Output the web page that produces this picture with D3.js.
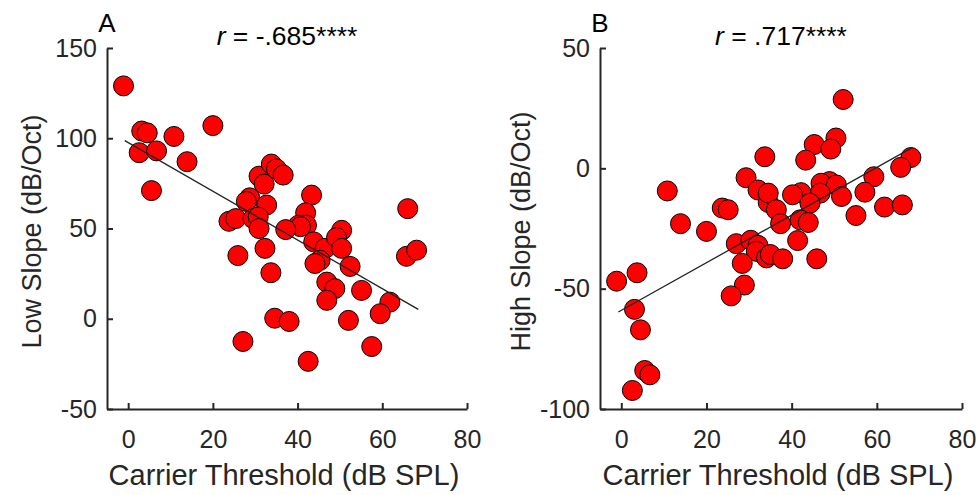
<!DOCTYPE html>
<html>
<head>
<meta charset="utf-8">
<script src="https://cdn.jsdelivr.net/npm/d3@7"></script>
<style>
    body { margin: 0; background: #fff; }
    svg { display: block; font-family: "Liberation Sans", Arial, sans-serif; }
</style>
</head>
<body>
<svg width="979" height="495"></svg>
<script>
// Panel A: carrier threshold vs low slope
const lowX = [-1.1, 3.2, 4.5, 10.8, 20.0, 2.6, 6.7, 13.9, 5.5,
    23.8, 25.4, 25.9, 27.1,
    30.9, 32.1, 33.8, 35.0, 36.6,
    28.7, 27.9, 32.7, 29.5, 30.7, 30.9, 32.3, 33.7, 34.6, 38.0,
    43.3, 41.9, 40.2, 42.1, 40.7, 37.2, 43.8, 46.5, 45.3, 44.1,
    50.4, 49.2, 50.4, 52.4, 46.9, 48.8, 46.9, 55.1, 61.8, 59.5, 52.0, 57.5, 42.5,
    66.0, 65.7, 68.1];
const lowY = [129, 104, 103, 101, 107, 92, 93, 87, 71,
    54, 55.5, 35, -12.6,
    79, 74.6, 85.7, 83, 79.6,
    67, 65, 63, 55.5, 56.4, 50, 39, 25.5, 0.3, -1.5,
    68.5, 58.7, 51.8, 51.8, 51, 49.4, 42.6, 39, 32.4, 30.6,
    49, 45, 39, 29, 20.3, 16.7, 10.2, 15.7, 9.2, 2.8, -0.9, -15.4, -23.6,
    61, 34.6, 38];
const lowFit = [[-0.8, 98.7], [68.5, 5.2]];

// Panel B: carrier threshold vs high slope
const highX = [-1.1, 3.7, 3.1, 4.5, 5.5, 6.7, 2.6,
    10.8, 13.9, 20.0, 23.7, 25.1, 29.3, 32.1, 33.7, 34.5,
    27.0, 30.4, 32.1, 31.7, 28.4, 28.9, 25.8, 34.1,
    52.1, 50.4, 45.3, 49.2, 43.3, 68.0, 65.6, 59.3, 57.2,
    48.9, 46.9, 50.5, 51.7, 46.7, 42.2, 40.2, 44.3,
    34.5, 36.4, 37.4, 42.0, 43.9, 55.1, 61.8, 66.0,
    41.4, 35.0, 37.9, 45.9];
const highY = [-46.9, -43.4, -58.6, -67.1, -84, -85.8, -92.3,
    -9.4, -23, -26.2, -16.5, -17.2, -3.9, -9, 4.8, -14.2,
    -31.3, -29.9, -32, -34.5, -39.5, -48.5, -53, -37.2,
    28.6, 12.6, 9.9, 8, 3.4, 4.5, 0.4, -3.5, -9.9,
    -5.5, -6.2, -6.9, -11.7, -10.3, -10.1, -11, -14.5,
    -10.3, -17.2, -23, -21.4, -22.5, -19.6, -16.1, -15.2,
    -30, -35.8, -37.6, -37.6];
const highFit = [[-0.7, -59.7], [68.4, 8.7]];

const xTicks = [0, 20, 40, 60, 80];
const lowTicks = [-50, 0, 50, 100, 150];
const highTicks = [-100, -50, 0, 50];

const textColor = "#262626";

function drawPanel(svg, opt) {
    let g = svg.append("g");

    let scX = d3.scaleLinear().domain([-5, 80]).range([opt.left, opt.right]);
    let scY = d3.scaleLinear().domain(opt.yDomain).range([opt.bottom, opt.top]);

    // Оси (ticks inside, like MATLAB)
    let axX = g.append("g")
        .attr("transform", `translate(0, ${opt.bottom})`)
        .call(d3.axisBottom(scX).tickValues(xTicks).tickFormat(d => String(d))
            .tickSizeInner(-6).tickSizeOuter(0).tickPadding(21));
    let axY = g.append("g")
        .attr("transform", `translate(${opt.left}, 0)`)
        .call(d3.axisLeft(scY).tickValues(opt.yTicks).tickFormat(d => String(d))
            .tickSizeInner(-6).tickSizeOuter(0).tickPadding(10));

    [axX, axY].forEach(ax => {
        ax.select(".domain").attr("stroke", textColor).attr("stroke-width", 2);
        ax.selectAll(".tick line").attr("stroke", textColor).attr("stroke-width", 2);
        ax.selectAll(".tick text")
            .attr("fill", textColor)
            .style("font-size", "25px")
            .style("font-family", "Liberation Sans, Arial, sans-serif");
    });

    // Точки
    let pts = opt.xs.map((x, i) => ({ x: x, y: opt.ys[i] }));
    g.selectAll("circle")
        .data(pts)
        .enter()
        .append("circle")
        .attr("cx", d => scX(d.x))
        .attr("cy", d => scY(d.y))
        .attr("r", 10)
        .attr("fill", "#ff0000")
        .attr("stroke", "#000")
        .attr("stroke-width", 1);

    // Линия регрессии
    g.append("path")
        .datum(opt.fit)
        .attr("d", d3.line().x(d => scX(d[0])).y(d => scY(d[1])))
        .attr("fill", "none")
        .attr("stroke", "#222")
        .attr("stroke-width", 1.3);

    // Подписи осей
    g.append("text")
        .attr("x", (opt.left + opt.right) / 2 - 3)
        .attr("y", 485)
        .attr("text-anchor", "middle")
        .attr("fill", textColor)
        .style("font-size", "29px")
        .text("Carrier Threshold (dB SPL)");

    g.append("text")
        .attr("transform", `translate(${opt.left - opt.yLabelGap}, ${(opt.top + opt.bottom) / 2 + 3}) rotate(-90)`)
        .attr("text-anchor", "middle")
        .attr("fill", textColor)
        .style("font-size", "27px")
        .text(opt.yLabel);

    // Заголовок с r
    let title = g.append("text")
        .attr("x", (opt.left + opt.right) / 2)
        .attr("y", 45)
        .attr("text-anchor", "middle")
        .attr("fill", "#000")
        .style("font-size", "26.5px");
    title.append("tspan").style("font-style", "italic").text("r");
    title.append("tspan").text(opt.rText);

    // Буква панели
    g.append("text")
        .attr("x", opt.left)
        .attr("y", 32)
        .attr("text-anchor", "middle")
        .attr("fill", "#000")
        .style("font-size", "26px")
        .text(opt.letter);
}

let svg = d3.select("svg");

drawPanel(svg, {
    left: 107, right: 467, top: 48, bottom: 409,
    yDomain: [-50, 150], yTicks: lowTicks,
    xs: lowX, ys: lowY, fit: lowFit, yLabelGap: 66,
    yLabel: "Low Slope (dB/Oct)", rText: " = -.685****", letter: "A"
});

drawPanel(svg, {
    left: 600, right: 962, top: 48, bottom: 409,
    yDomain: [-100, 50], yTicks: highTicks,
    xs: highX, ys: highY, fit: highFit, yLabelGap: 70,
    yLabel: "High Slope (dB/Oct)", rText: " = .717****", letter: "B"
});
</script>
</body>
</html>
